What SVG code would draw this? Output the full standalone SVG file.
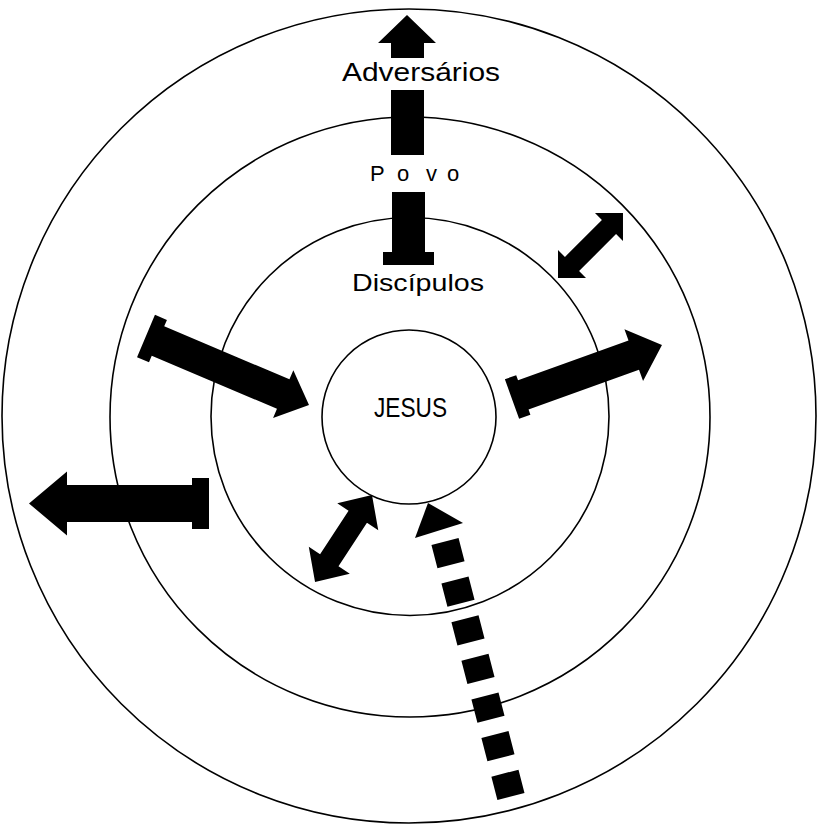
<svg xmlns="http://www.w3.org/2000/svg" width="818" height="826" viewBox="0 0 818 826">
<style>
.ring{fill:none;stroke:#000;stroke-width:1.6}
.lbl{font-family:"Liberation Sans",Arial,sans-serif;fill:#000}
.arr{fill:#000;stroke:none}
</style>
<rect width="818" height="826" fill="#fff"/>
<g id="adversarios">
<circle class="ring" cx="409" cy="416" r="407"/>
<text class="lbl" x="342" y="81" font-size="25" textLength="158" lengthAdjust="spacingAndGlyphs">Adversários</text>
</g>
<g id="povo">
<circle class="ring" cx="410" cy="417" r="300"/>
<text class="lbl" x="370 397 426 447" y="181" font-size="22">Povo</text>
</g>
<g id="discipulos">
<circle class="ring" cx="410" cy="416.5" r="199"/>
<text class="lbl" x="352" y="291" font-size="24" textLength="132" lengthAdjust="spacingAndGlyphs">Discípulos</text>
</g>
<g id="jesus">
<circle class="ring" cx="409" cy="417" r="87" fill="#fff"/>
<text class="lbl" x="374" y="417" font-size="27" textLength="73" lengthAdjust="spacingAndGlyphs">JESUS</text>
</g>
<g id="connectors">
<path class="arr" d="M407,15 L436,43 H424 V58 H391 V43 H378 Z M391,90 H424 V155 H391 Z M392,192 H425 V252 H434 V265 H383 V252 H392 Z"/>
<path class="arr" transform="translate(146,336) rotate(22.94)" d="M0,-23 H13 V-16 H149 V-26 L177,0 L149,26 V16 H13 V23 H0 Z"/>
<path class="arr" transform="translate(512,399) rotate(-19.8)" d="M0,-21 H12 V-15.5 H129.4 V-27.5 L159.4,0 L129.4,27.5 V15.5 H12 V21 H0 Z"/>
<path class="arr" transform="translate(209,503.5) rotate(180)" d="M0,-25.5 H17 V-18.5 H142 V-32 L180,0 L142,32 V18.5 H17 V25.5 H0 Z"/>
<path class="arr" transform="translate(558,278) rotate(-45)" d="M0,0 L19.8,-19.8 V-10 H72.1 V-19.8 L91.9,0 L72.1,19.8 V10 H19.8 V19.8 Z"/>
<path class="arr" transform="translate(372,495) rotate(123.2)" d="M0,0 L26,-24.5 V-11 H78 V-24.5 L104,0 L78,24.5 V11 H26 V24.5 Z"/>
<line x1="445" y1="541.4" x2="511" y2="796.6" stroke="#000" stroke-width="28" stroke-dasharray="24 15.9"/>
<polygon class="arr" points="415,538 428,503 463,523"/>
</g>
</svg>
